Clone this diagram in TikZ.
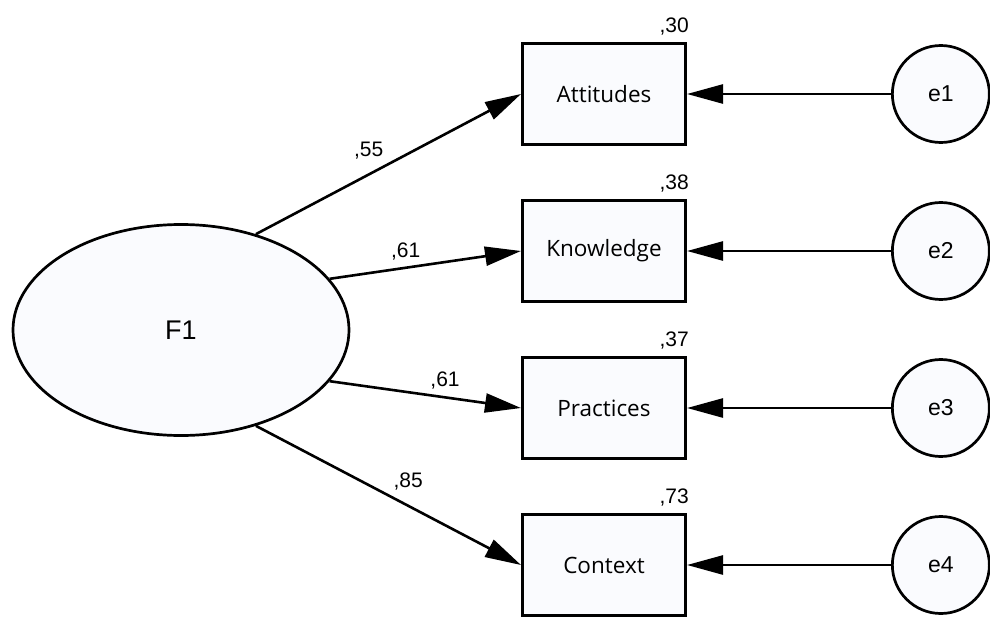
\documentclass[tikz,border=0pt]{standalone}
\usepackage{fontspec}
\setmainfont{Liberation Sans}
\newfontfamily\boxfont{Open Sans}
\usetikzlibrary{arrows.meta, positioning, shapes.geometric}
\definecolor{shapefill}{RGB}{250,251,254}

\begin{document}
\begin{tikzpicture}[
    x=1pt, y=1pt,
    >={Triangle[length=36pt, width=19pt]},
    node distance=53pt,
    box/.style={
        rectangle,
        draw,
        line width=3pt,
        fill=shapefill,
        minimum width=163pt,
        minimum height=101pt,
        font=\boxfont\fontsize{22.5}{27}\selectfont
    },
    latent/.style={
        ellipse,
        draw,
        line width=2.7pt,
        fill=shapefill,
        minimum width=336pt,
        minimum height=211pt,
        font=\fontsize{27}{32}\selectfont
    },
    err/.style={
        circle,
        draw,
        line width=2.7pt,
        fill=shapefill,
        minimum size=97pt,
        font=\fontsize{23}{28}\selectfont
    },
    lbl/.style={font=\fontsize{21}{25}\selectfont, inner sep=1pt},
    link/.style={->, line width=2.6pt}
]
\useasboundingbox (0,0) rectangle (990,-618);

% Nodes
\node (F1) [latent] at (181,-330) {F1};
\node (attitudes) [box] at (604,-94) {Attitudes};
\node (knowledge) [box, below=of attitudes] {Knowledge};
\node (practices) [box, below=of knowledge] {Practices};
\node (context)   [box, below=of practices] {Context};

\node (e1) [err, right=204pt of attitudes] {e1};
\node (e2) [err, right=204pt of knowledge] {e2};
\node (e3) [err, right=204pt of practices] {e3};
\node (e4) [err, right=204pt of context]   {e4};

% Squared multiple correlations
\node (r1) [lbl, above left=6pt and -3pt of attitudes.north east] {,30};
\node (r2) [lbl, above left=6pt and -3pt of knowledge.north east] {,38};
\node (r3) [lbl, above left=6pt and -3pt of practices.north east] {,37};
\node (r4) [lbl, above left=6pt and -3pt of context.north east]   {,73};

% Loadings
\draw[link] (F1.52) -- (attitudes.west)
    node[lbl, midway, above left=4pt]{,55};
\draw[link] (F1.19) -- (knowledge.west)
    node[lbl, midway, above left=4pt]{,61};
\draw[link] (F1.-19) -- (practices.west)
    node[lbl, midway, above right=4pt]{,61};
\draw[link] (F1.-52) -- (context.west)
    node[lbl, midway, above right=4pt]{,85};

% Errors
\draw[link] (e1) -- (attitudes);
\draw[link] (e2) -- (knowledge);
\draw[link] (e3) -- (practices);
\draw[link] (e4) -- (context);

\end{tikzpicture}
\end{document}
